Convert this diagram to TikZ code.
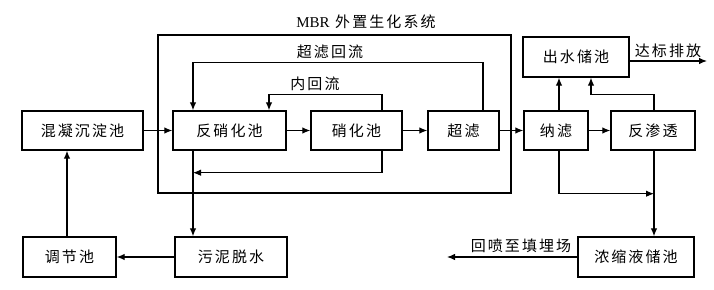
\documentclass[tikz,border=0pt]{standalone}
\usepackage{fontspec}
\setmainfont{Noto Sans CJK SC}[LetterSpace=14]
\newfontfamily\latinfont{Liberation Serif}
\usetikzlibrary{arrows.meta}

\begin{document}
\begin{tikzpicture}[x=1pt,y=1pt,
  box/.style={draw,line width=1.4pt,minimum height=39pt,inner sep=0pt,font=\fontsize{15}{17}\selectfont},
  arr/.style={line width=1.1pt,-{Latex[length=8pt,width=6.5pt]}},
  ln/.style={line width=1.1pt},
  lbl/.style={font=\fontsize{15}{17}\selectfont,inner sep=0pt}]
  \useasboundingbox (0,0) rectangle (714,289);
  \draw[ln] (158,96) rectangle (511,254);
  \node[lbl] (mbr) at (366,267) {{\latinfont MBR} 外置生化系统};

  \node[box,minimum width=121pt] (hn) at (82.5,158.5) {混凝沉淀池};
  \node[box,minimum width=113pt] (fx) at (229.5,158.5) {反硝化池};
  \node[box,minimum width=91pt] (xh) at (356.5,158.5) {硝化池};
  \node[box,minimum width=71pt] (cl) at (463.5,158.5) {超滤};
  \node[box,minimum width=64pt] (nl) at (556,158.5) {纳滤};
  \node[box,minimum width=84pt] (fst) at (653,158.5) {反渗透};
  \node[box,minimum width=106pt,minimum height=40pt] (cs) at (576,232) {出水储池};
  \node[box,minimum width=93pt,minimum height=40pt] (tj) at (69.5,32) {调节池};
  \node[box,minimum width=112pt,minimum height=40pt] (wn) at (231,32) {污泥脱水};
  \node[box,minimum width=116pt,minimum height=40pt] (ns) at (636,32) {浓缩液储池};

  \draw[arr] (hn) -- (fx);
  \draw[arr] (fx) -- (xh);
  \draw[arr] (xh) -- (cl);
  \draw[arr] (cl) -- (nl);
  \draw[arr] (nl) -- (fst);

  \draw[arr] ([xshift=19.5]cl.north) -- ++(0,48) -| ([xshift=-36.5]fx.north);
  \node[lbl] (clhl) at (330,237) {超滤回流};
  \draw[arr] ([xshift=25.5]xh.north) -- ++(0,16) -| ([xshift=39.5]fx.north);
  \node[lbl] (nhl) at (315,205) {内回流};
  \draw[arr] ([xshift=25.5]xh.south) |- ([xshift=-36.5,yshift=-22]fx.south);
  \draw[arr] ([xshift=-36.5]fx.south) -- ([xshift=-36.5]fx.south |- wn.north);

  \draw[arr] (wn) -- (tj);
  \draw[arr] ([xshift=-2.5]tj.north) -- ([xshift=-2.5]tj.north |- hn.south);

  \draw[arr] ([xshift=3]nl.north) -- ([xshift=3]nl.north |- cs.south);
  \draw[arr] ([xshift=1]fst.north) -- ++(0,16) -| ([xshift=15]cs.south);
  \coordinate (dbout) at (707,228);
  \draw[arr] (cs.east |- dbout) -- (dbout);
  \node[lbl,anchor=south] (dbpf) at (668,231) {达标排放};

  \draw[arr] ([xshift=3]nl.south) -- ++(0,-43) -- ++(95,0);
  \draw[arr] ([xshift=1]fst.south) -- ([xshift=18]ns.north);
  \coordinate (hpout) at (447,32);
  \draw[arr] (ns.west) -- (hpout);
  \node[lbl,anchor=south] (hp) at (521,36) {回喷至填埋场};
\end{tikzpicture}
\end{document}
